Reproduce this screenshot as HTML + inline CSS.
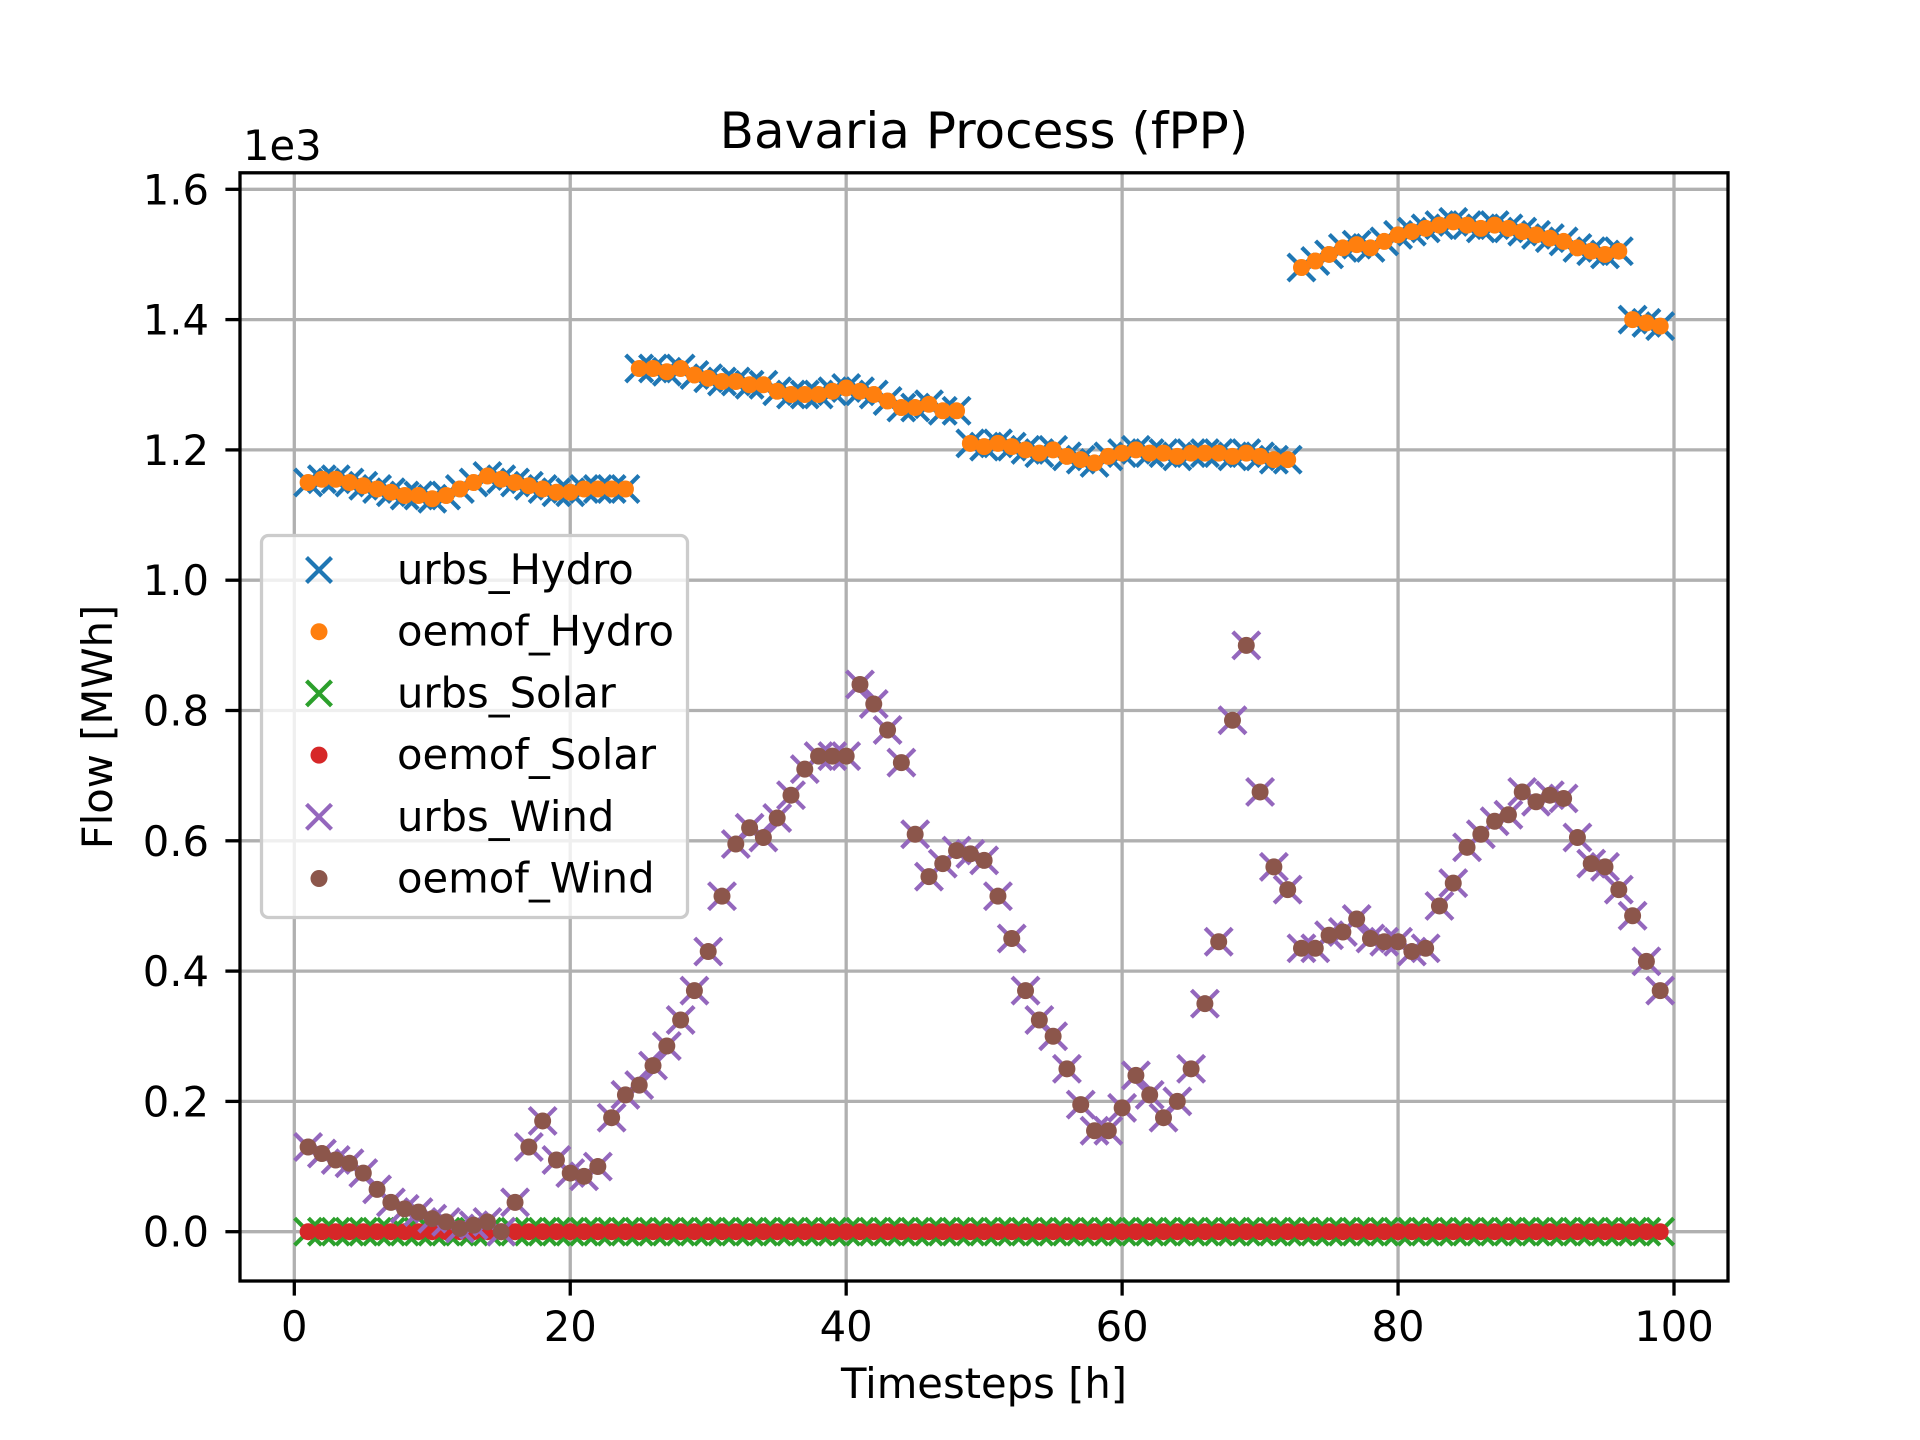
<!DOCTYPE html>
<html><head><meta charset="utf-8"><style>
html,body{margin:0;padding:0;background:#fff;}
svg{display:block;}
text{font-family:"DejaVu Sans","Liberation Sans",sans-serif;fill:#000;}
</style></head><body>
<svg id="chart" width="1920" height="1440" viewBox="0 0 1920 1440" xmlns="http://www.w3.org/2000/svg">
<rect x="0" y="0" width="1920" height="1440" fill="#fff"/>
<g id="grid"></g>
<g id="marks"></g>
<g id="axes"></g>
<text x="984" y="148" font-size="50" text-anchor="middle">Bavaria Process (fPP)</text>
<text x="984" y="1398" font-size="41.7" text-anchor="middle">Timesteps [h]</text>
<text transform="translate(112,727) rotate(-90)" font-size="41.7" text-anchor="middle">Flow [MWh]</text>
<text x="243" y="160" font-size="41.7">1e3</text>
<g id="legend"></g>
</svg>
<script>
const xTicks = [0, 20, 40, 60, 80, 100];
const yTicks = [0, 0.2, 0.4, 0.6, 0.8, 1.0, 1.2, 1.4, 1.6];
const yTickLabels = ["0.0","0.2","0.4","0.6","0.8","1.0","1.2","1.4","1.6"];
const timesteps = Array.from({length: 99}, (_, i) => i + 1);
const hydro = [
1.15,1.155,1.155,1.15,1.145,1.14,1.135,1.13,1.13,1.125,1.13,1.14,1.15,1.16,1.155,1.15,1.145,1.14,1.135,1.135,1.14,1.14,1.14,1.14,
1.325,1.325,1.32,1.325,1.315,1.31,1.305,1.305,1.3,1.3,1.29,1.285,1.285,1.285,1.29,1.295,1.29,1.285,1.275,1.265,1.265,1.27,1.26,1.26,
1.21,1.205,1.21,1.205,1.2,1.195,1.2,1.19,1.185,1.18,1.19,1.195,1.2,1.195,1.195,1.19,1.195,1.195,1.195,1.19,1.195,1.19,1.185,1.185,
1.48,1.49,1.5,1.51,1.515,1.51,1.52,1.53,1.535,1.54,1.545,1.55,1.545,1.54,1.545,1.54,1.535,1.53,1.525,1.52,1.51,1.505,1.5,1.505,
1.40,1.395,1.39];
const solar = timesteps.map(() => 0);
const wind = [
0.13,0.12,0.11,0.105,0.09,0.065,0.045,0.035,0.03,0.02,0.015,0.005,0.01,0.015,0.0,0.045,0.13,0.17,0.11,0.09,
0.085,0.1,0.175,0.21,0.225,0.255,0.285,0.325,0.37,0.43,0.515,0.595,0.62,0.605,0.635,0.67,0.71,0.73,0.73,0.73,
0.84,0.81,0.77,0.72,0.61,0.545,0.565,0.585,0.58,0.57,0.515,0.45,0.37,0.325,0.3,0.25,0.195,0.155,0.155,0.19,
0.24,0.21,0.175,0.2,0.25,0.35,0.445,0.785,0.9,0.675,0.56,0.525,0.435,0.435,0.455,0.46,0.48,0.45,0.445,0.445,
0.43,0.435,0.5,0.535,0.59,0.61,0.63,0.64,0.675,0.66,0.67,0.665,0.605,0.565,0.56,0.525,0.485,0.415,0.37];

const NS = "http://www.w3.org/2000/svg";
const L = 240, R = 1728, T = 172.8, B = 1281;
function xs(v){ return 294.3 + v * 13.797; }
function ys(v){ return 1231.7 - v * 651.5; }
function mk(tag, attrs, parent){ const e = document.createElementNS(NS, tag); for (const k in attrs) e.setAttribute(k, attrs[k]); parent.appendChild(e); return e; }

const grid = document.getElementById('grid');
const axes = document.getElementById('axes');
xTicks.forEach(t => {
  const g = mk('line', {x1: xs(t), x2: xs(t), y1: T, y2: B, stroke: '#b0b0b0', 'stroke-width': 3.3}, grid);
  
  
  const tk = mk('line', {x1: xs(t), x2: xs(t), y1: B, y2: B + 14.6, stroke: '#000', 'stroke-width': 3.3}, axes);
  
  
  const lb = mk('text', {x: xs(t), y: 1341, 'font-size': 41.7, 'text-anchor': 'middle'}, axes);
  lb.textContent = String(t);
  
  
});
yTicks.forEach((t, i) => {
  const g = mk('line', {x1: L, x2: R, y1: ys(t), y2: ys(t), stroke: '#b0b0b0', 'stroke-width': 3.3}, grid);
  
  
  const tk = mk('line', {x1: L - 14.6, x2: L, y1: ys(t), y2: ys(t), stroke: '#000', 'stroke-width': 3.3}, axes);
  
  
  const lb = mk('text', {x: 209, y: ys(t) + 15, 'font-size': 41.7, 'text-anchor': 'end'}, axes);
  lb.textContent = yTickLabels[i];
  
  
});
const frame = mk('rect', {x: L, y: T, width: R - L, height: B - T, fill: 'none', stroke: '#000', 'stroke-width': 3.3}, axes);



const marks = document.getElementById('marks');
function cross(cx, cy, color, parent, s){
  const p = mk('path', {d: `M${cx-s},${cy-s}L${cx+s},${cy+s}M${cx-s},${cy+s}L${cx+s},${cy-s}`, stroke: color, 'stroke-width': 4.2, fill: 'none'}, parent);
  return p;
}
function drawSeries(vals, color, kind, name){
  const g = mk('g', {}, marks);
  
  
  vals.forEach((v, i) => {
    const cx = xs(timesteps[i]), cy = ys(v);
    let e;
    if (kind === 'x') e = cross(cx, cy, color, g, 13.5);
    else e = mk('circle', {cx: cx, cy: cy, r: 8.5, fill: color}, g);
    
    
  });
}
drawSeries(hydro, '#1f77b4', 'x', 'urbs-hydro');
drawSeries(hydro, '#ff7f0e', 'o', 'oemof-hydro');
drawSeries(solar, '#2ca02c', 'x', 'urbs-solar');
drawSeries(solar, '#d62728', 'o', 'oemof-solar');
drawSeries(wind, '#9467bd', 'x', 'urbs-wind');
drawSeries(wind, '#8c564b', 'o', 'oemof-wind');

const legend = document.getElementById('legend');
const lbox = mk('rect', {x: 261.5, y: 535.5, width: 426, height: 382, rx: 7, fill: 'rgba(255,255,255,0.8)', stroke: '#cccccc', 'stroke-width': 3.3}, legend);


const legItems = [['urbs_Hydro','#1f77b4','x'],['oemof_Hydro','#ff7f0e','o'],['urbs_Solar','#2ca02c','x'],['oemof_Solar','#d62728','o'],['urbs_Wind','#9467bd','x'],['oemof_Wind','#8c564b','o']];
legItems.forEach((it, i) => {
  const cy = 570 + i * 61.7;
  let m;
  if (it[2] === 'x') m = cross(319, cy, it[1], legend, 12.5);
  else m = mk('circle', {cx: 319, cy: cy, r: 8.5, fill: it[1]}, legend);
  
  
  const t = mk('text', {x: 397, y: cy + 14, 'font-size': 41.7}, legend);
  t.textContent = it[0];
  
  
});
</script>
</body></html>
